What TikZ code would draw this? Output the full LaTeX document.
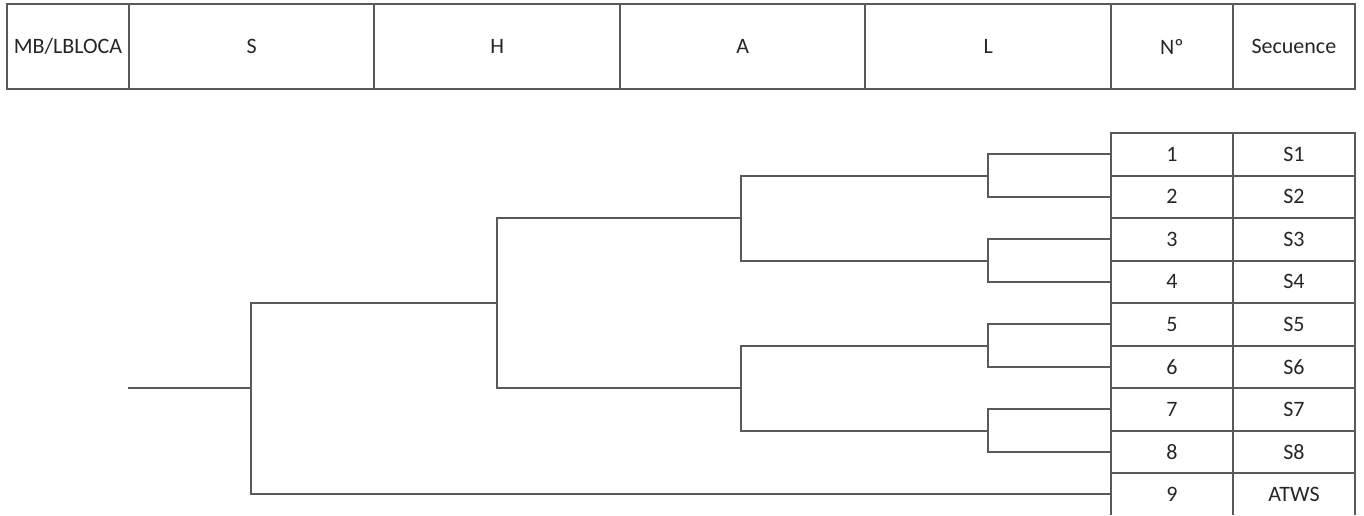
\documentclass[tikz,border=0pt]{standalone}
\usepackage{fontspec}
\setmainfont{Carlito}
\usepackage{tikz}
\usetikzlibrary{positioning}
\tikzset{
  cell/.style={rectangle, draw=black!65, line width=1.5pt, outer sep=0pt, inner sep=0pt,
               text=black!85, align=center, font=\fontsize{16.5}{19}\selectfont},
  hcell/.style={cell, minimum height=63.75pt},
  rcell/.style={cell, minimum height=31.875pt, minimum width=91.5pt},
  narrow/.style={minimum width=91.5pt},
  wide/.style={minimum width=184.1pt},
  tline/.style={draw=black!65, line width=1.5pt}
}
\begin{document}
\begin{tikzpicture}[x=0.75pt, y=-0.75pt]
\useasboundingbox (0,0) rectangle (1364,515);
\clip (0,0) rectangle (1364,514.4);
% ---- header row ----
\node[hcell, narrow, anchor=north west] (mb) at (7,4) {MB/LBLOCA};
\node[hcell, wide, right=0pt of mb] (hs) {S};
\node[hcell, wide, right=0pt of hs] (hh) {H};
\node[hcell, wide, right=0pt of hh] (ha) {A};
\node[hcell, wide, right=0pt of ha] (hl) {L};
\node[hcell, narrow, right=0pt of hl] (hno) {Nº};
\node[hcell, narrow, right=0pt of hno] (hsec) {Secuence};
% ---- sequence table ----
\node[rcell, anchor=north west] (n1) at (1111,133) {1};
\node[rcell, right=0pt of n1] (s1) {S1};
\foreach \i/\j/\lab in {2/1/S2, 3/2/S3, 4/3/S4, 5/4/S5, 6/5/S6, 7/6/S7, 8/7/S8, 9/8/ATWS} {
  \node[rcell, below=0pt of n\j] (n\i) {\i};
  \node[rcell, right=0pt of n\i] (s\i) {\lab};
}
% ---- event tree junctions ----
\coordinate (root) at (128,388);
\coordinate (sj) at (251,388);
\coordinate (hj) at (497,303);
\coordinate (aj1) at (741,218);
\coordinate (aj2) at (741,388);
\coordinate (lj1) at (988,175.5);
\coordinate (lj2) at (988,260.5);
\coordinate (lj3) at (988,345.5);
\coordinate (lj4) at (988,430.5);
% ---- event tree branches ----
\draw[tline] (n1.west) -| (lj1) |- (n2.west);
\draw[tline] (n3.west) -| (lj2) |- (n4.west);
\draw[tline] (n5.west) -| (lj3) |- (n6.west);
\draw[tline] (n7.west) -| (lj4) |- (n8.west);
\draw[tline] (lj1) -| (aj1) |- (lj2);
\draw[tline] (lj3) -| (aj2) |- (lj4);
\draw[tline] (aj1) -| (hj) |- (aj2);
\draw[tline] (hj) -| (sj) |- (n9.west);
\draw[tline] (root) -- (sj);
\end{tikzpicture}
\end{document}
